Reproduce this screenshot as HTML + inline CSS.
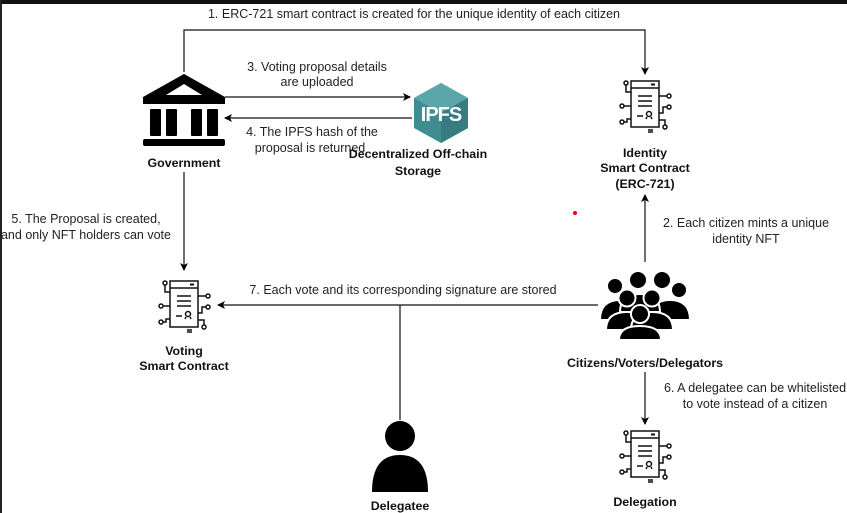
<!DOCTYPE html>
<html><head><meta charset="utf-8"><style>
body{margin:0;background:#fff}
svg{display:block}
text{font-family:"Liberation Sans",sans-serif;font-size:12.5px;fill:#222}
.b{font-weight:bold;fill:#111;font-size:12.4px}
</style></head><body>
<svg width="847" height="513" viewBox="0 0 847 513">
<defs>
<marker id="a" markerWidth="8" markerHeight="8" refX="7" refY="4" orient="auto" markerUnits="userSpaceOnUse"><path d="M0,0 L8,4 L0,8 L2,4z" fill="#000"/></marker>
<g id="ic" fill="none" stroke="#111" stroke-width="1.5">
<rect x="-14" y="-23" width="28" height="46"/>
<line x1="-14" y1="-16" x2="14" y2="-16"/>
<line x1="6" y1="-19.5" x2="10" y2="-19.5" stroke-width="2"/>
<line x1="-7" y1="-8" x2="7" y2="-8"/><line x1="-7" y1="-3" x2="7" y2="-3"/><line x1="-7" y1="2" x2="7" y2="2"/>
<line x1="-8" y1="12" x2="-2" y2="12"/>
<circle cx="4" cy="10" r="2.5"/><path d="M2,13 L1,15 M6,13 L7,15"/>
<line x1="3" y1="26" x2="8" y2="26"/><line x1="3" y1="28" x2="8" y2="28"/>
<path d="M-14,-12 H-19 V-19"/><circle cx="-19" cy="-21" r="2"/>
<path d="M-14,2 H-21"/><circle cx="-23" cy="2" r="2"/>
<path d="M-14,15 H-18 V18 H-21"/><circle cx="-23" cy="18" r="2"/>
<path d="M14,-8 H22"/><circle cx="24" cy="-8" r="2"/>
<path d="M14,9 H18 V3 H22"/><circle cx="24" cy="3" r="2"/>
<path d="M14,16 H20 V21"/><circle cx="20" cy="23" r="2"/>
</g>
</defs>
<rect x="0" y="0" width="847" height="4" fill="#111"/>
<rect x="0" y="0" width="2" height="513" fill="#222"/>

<g stroke="#111" stroke-width="1.2" fill="none">
<path d="M184,72 V30 H645 V74" marker-end="url(#a)"/>
<line x1="225" y1="97" x2="410" y2="97" marker-end="url(#a)"/>
<line x1="412" y1="118" x2="225" y2="118" marker-end="url(#a)"/>
<line x1="184" y1="172" x2="184" y2="270" marker-end="url(#a)"/>
<line x1="645" y1="262" x2="645" y2="195" marker-end="url(#a)"/>
<line x1="598" y1="305" x2="218" y2="305" marker-end="url(#a)"/>
<line x1="400" y1="305" x2="400" y2="420"/>
<line x1="645" y1="372" x2="645" y2="424" marker-end="url(#a)"/>
</g>

<g fill="#000">
<path d="M184,74 L143,97 L143,104 L225,104 L225,97 Z"/>
<rect x="150" y="109" width="11" height="27" rx="1"/>
<rect x="166" y="109" width="11" height="27" rx="1"/>
<rect x="191" y="109" width="11" height="27" rx="1"/>
<rect x="207" y="109" width="11" height="27" rx="1"/>
<rect x="143" y="139" width="82" height="7" rx="2"/>
</g>
<path d="M184,84 L166,95 L202,95Z" fill="#fff"/>

<polygon points="441,83 468,98 468,128 441,143 414,128 414,98" fill="#3f8d90"/>
<polygon points="441,83 468,98 441,113 414,98" fill="#5aa6a8"/>
<polygon points="441,113 468,98 468,128 441,143" fill="#367c80"/>
<text x="441" y="121" text-anchor="middle" style="font-size:20px;font-weight:bold;fill:#fff;letter-spacing:-1px">IPFS</text>

<use href="#ic" x="645" y="104"/>
<use href="#ic" x="184" y="304"/>
<use href="#ic" x="645" y="454"/>

<g fill="#000" stroke="#fff" stroke-width="2">
<circle cx="615" cy="286" r="8"/><circle cx="638" cy="280" r="9"/><circle cx="662" cy="280" r="9"/><circle cx="679" cy="290" r="8"/>
<path d="M600,320 Q600,300 620,300 Q640,300 640,320Z"/><path d="M650,320 Q650,300 670,300 Q690,300 690,320Z"/>
<path d="M620,312 Q620,294 640,294 Q660,294 660,312Z"/>
<circle cx="627" cy="298" r="8.5"/><circle cx="652" cy="298" r="8.5"/>
<path d="M606,330 Q606,312 627,312 Q648,312 648,330Z"/><path d="M631,330 Q631,312 652,312 Q673,312 673,330Z"/>
<circle cx="640" cy="314" r="9"/>
<path d="M619,340 Q619,326 640,326 Q661,326 661,340Z"/>
</g>

<circle cx="400" cy="436" r="15" fill="#000"/>
<path d="M372,492 Q372,455 400,455 Q428,455 428,492Z" fill="#000"/>

<text x="414" y="18" text-anchor="middle">1. ERC-721 smart contract is created for the unique identity of each citizen</text>
<text x="317" y="71" text-anchor="middle">3. Voting proposal details</text>
<text x="317" y="86" text-anchor="middle">are uploaded</text>
<text x="312" y="136" text-anchor="middle">4. The IPFS hash of the</text>
<text x="310" y="152" text-anchor="middle">proposal is returned</text>
<text x="418" y="158" text-anchor="middle" class="b">Decentralized Off-chain</text>
<text x="418" y="175" text-anchor="middle" class="b">Storage</text>
<text x="184" y="167" text-anchor="middle" class="b">Government</text>
<text x="645" y="157" text-anchor="middle" class="b">Identity</text>
<text x="645" y="172" text-anchor="middle" class="b">Smart Contract</text>
<text x="645" y="188" text-anchor="middle" class="b">(ERC-721)</text>
<text x="86" y="223" text-anchor="middle">5. The Proposal is created,</text>
<text x="86" y="239" text-anchor="middle">and only NFT holders can vote</text>
<text x="746" y="227" text-anchor="middle">2. Each citizen mints a unique</text>
<text x="746" y="243" text-anchor="middle">identity NFT</text>
<text x="403" y="294" text-anchor="middle">7. Each vote and its corresponding signature are stored</text>
<text x="184" y="355" text-anchor="middle" class="b">Voting</text>
<text x="184" y="370" text-anchor="middle" class="b">Smart Contract</text>
<text x="645" y="367" text-anchor="middle" class="b">Citizens/Voters/Delegators</text>
<text x="755" y="392" text-anchor="middle">6. A delegatee can be whitelisted</text>
<text x="755" y="408" text-anchor="middle">to vote instead of a citizen</text>
<text x="645" y="506" text-anchor="middle" class="b">Delegation</text>
<text x="400" y="510" text-anchor="middle" class="b">Delegatee</text>
<circle cx="575" cy="213" r="2" fill="#e00"/>
</svg>
</body></html>
